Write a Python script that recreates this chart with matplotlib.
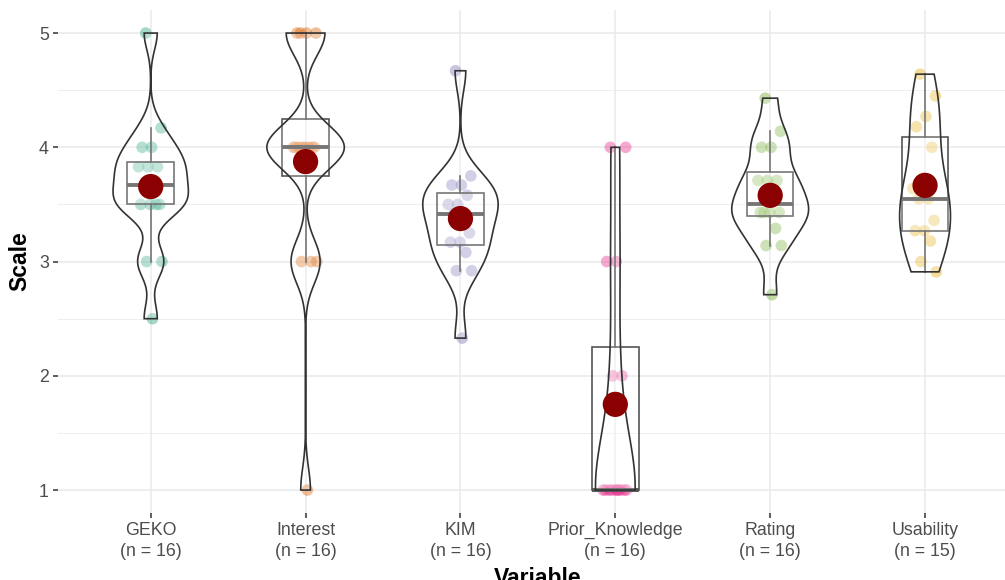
import numpy as np
import matplotlib
matplotlib.use("Agg")
import matplotlib.pyplot as plt
from matplotlib.patches import Polygon

plt.rcParams['font.family'] = ['Liberation Sans', 'DejaVu Sans']

# Scores per variable
categories = ['GEKO', 'Interest', 'KIM', 'Prior_Knowledge', 'Rating', 'Usability']
geko = [5.0, 4.17, 4.0, 4.0, 3.83, 3.83, 3.83, 3.67, 3.67, 3.5, 3.5, 3.5, 3.5, 3.0, 3.0, 2.5]
interest = [5, 5, 5, 5, 4, 4, 4, 4, 4, 4, 4, 4, 3, 3, 3, 1]
kim = [4.67, 3.75, 3.67, 3.67, 3.58, 3.5, 3.5, 3.42, 3.42, 3.25, 3.17, 3.17, 3.08, 2.92, 2.92, 2.33]
prior_knowledge = [4, 4, 3, 3, 2, 2, 1, 1, 1, 1, 1, 1, 1, 1, 1, 1]
rating = [4.43, 4.14, 4.0, 4.0, 3.71, 3.71, 3.71, 3.57, 3.43, 3.43, 3.43, 3.43, 3.29, 3.14, 3.14, 2.71]
usability = [4.64, 4.45, 4.27, 4.18, 4.0, 3.73, 3.64, 3.55, 3.55, 3.36, 3.27, 3.27, 3.18, 3.0, 2.91]

groups = [geko, interest, kim, prior_knowledge, rating, usability]
colors = ['#1B9E77', '#D95F02', '#7570B3', '#E7298A', '#66A61E', '#E6AB02']


def bw_nrd0(x):
    x = np.asarray(x, float)
    sd = x.std(ddof=1)
    q1, q3 = np.percentile(x, [25, 75])
    lo = min(sd, (q3 - q1) / 1.34)
    if lo == 0:
        lo = sd if sd > 0 else 1.0
    return 0.9 * lo * len(x) ** -0.2


def kde(x, grid):
    x = np.asarray(x, float)
    h = bw_nrd0(x)
    z = (grid[:, None] - x[None, :]) / h
    return np.exp(-0.5 * z ** 2).sum(axis=1) / (len(x) * h * np.sqrt(2 * np.pi))


# trimmed densities, scaled to the same area
dens = []
for g in groups:
    yy = np.linspace(min(g), max(g), 512)
    dens.append((yy, kde(g, yy)))
dmax = max(d.max() for _, d in dens)

fig = plt.figure(figsize=(10.05, 5.8), dpi=100)
ax = fig.add_axes([0.0575, 0.1157, 0.9554, 0.8667])

pos = np.arange(1, len(groups) + 1)

for i, g in enumerate(groups):
    g = np.asarray(g, float)
    # jittered raw points
    n = len(g)
    off = ((np.arange(n) * 0.618034 + 0.3) % 1 - 0.5) * 0.16
    ax.scatter(pos[i] + off, g, s=70, color=colors[i], alpha=0.4,
               edgecolors='none', zorder=2)

ax.boxplot(groups, positions=pos, widths=0.3, whis=1.5, showfliers=False,
           showcaps=False, patch_artist=True, manage_ticks=False, zorder=3,
           boxprops=dict(facecolor=(1, 1, 1, 0.2), edgecolor='#555555', linewidth=1.2),
           whiskerprops=dict(color='#555555', linewidth=1.2),
           medianprops=dict(color='#555555', linewidth=2.8))

for i, (yy, d) in enumerate(dens):
    w = 0.25 * d / dmax
    xs = np.concatenate([pos[i] - w, (pos[i] + w)[::-1]])
    ys = np.concatenate([yy, yy[::-1]])
    ax.add_patch(Polygon(np.column_stack([xs, ys]), closed=True,
                         facecolor=(1, 1, 1, 0.2), edgecolor='#333333',
                         linewidth=1.2, zorder=4))

means = [np.mean(g) for g in groups]
ax.scatter(pos, means, s=330, color='#8B0000', edgecolors='none', zorder=5)

# axes styling
ax.set_xlim(0.4, 6.6)
ax.set_ylim(0.8, 5.2)
ax.set_xticks(pos)
ax.set_xticklabels([f'{c}\n(n = {len(g)})' for c, g in zip(categories, groups)],
                   linespacing=1.3)
ax.set_yticks([1, 2, 3, 4, 5])
ax.set_yticks([1.5, 2.5, 3.5, 4.5], minor=True)
ax.grid(which='major', color='#EBEBEB', linewidth=1.2)
ax.grid(which='minor', axis='y', color='#EBEBEB', linewidth=0.6)
ax.set_axisbelow(True)
for s in ax.spines.values():
    s.set_visible(False)
ax.tick_params(axis='both', which='major', length=3.5, width=1.1, color='#333333',
               labelcolor='#4D4D4D', labelsize=12.8, pad=3)
ax.tick_params(axis='y', which='minor', length=0)

fig.text(538 / 1005, -4.7 / 580, 'Variable', ha='center', va='baseline',
         fontsize=16.5, fontweight='bold')
fig.text(20 / 1005, 1 - 261.5 / 580, 'Scale', ha='center', va='center',
         rotation=90, fontsize=16.5, fontweight='bold')

fig.savefig('out.png', dpi=100)
